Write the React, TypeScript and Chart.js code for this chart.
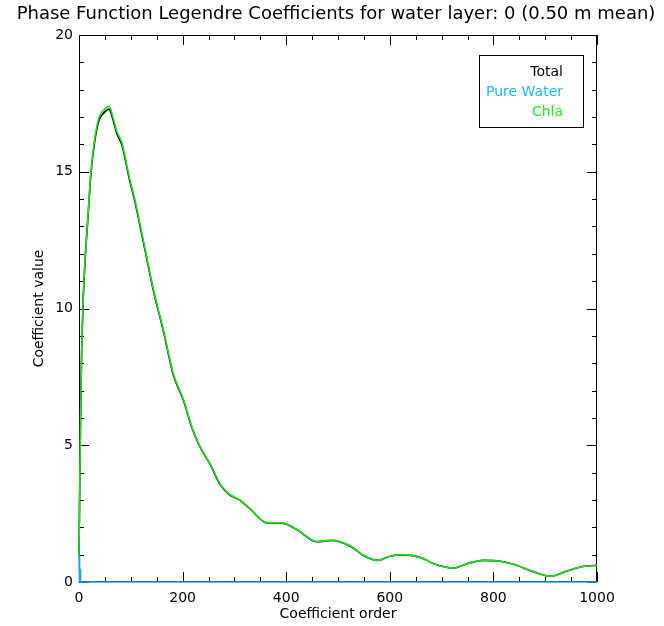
import React, { useEffect, useRef } from "react";
import { Chart, registerables } from "chart.js";

Chart.register(...registerables);

// Legendre expansion coefficients of the phase function, by coefficient order
const ORDERS = [0, 1, 2, 3, 5, 8, 12, 17, 23, 31, 39, 47, 58, 66, 73, 83, 97, 108, 128, 144, 163, 182, 202, 218, 234, 253, 272, 289, 311, 330, 363, 392, 420, 459, 488, 524, 549, 577, 600, 623, 659, 685, 723, 749, 781, 813, 839, 878, 910, 942, 968, 1000];
const CHLA = [1.0, 2.8, 4.5, 6.0, 8.3, 10.3, 11.9, 13.3, 15.0, 16.3, 17.0, 17.24, 17.4, 16.97, 16.48, 16.05, 14.82, 13.97, 12.14, 10.67, 9.21, 7.62, 6.65, 5.67, 4.94, 4.33, 3.6, 3.23, 2.99, 2.69, 2.17, 2.16, 1.93, 1.48, 1.53, 1.32, 0.98, 0.79, 0.94, 1.0, 0.9, 0.67, 0.51, 0.67, 0.79, 0.76, 0.65, 0.37, 0.21, 0.4, 0.55, 0.61];
const TOTAL = [1.0, 2.78, 4.48, 5.97, 8.26, 10.25, 11.84, 13.23, 14.92, 16.2, 16.9, 17.13, 17.29, 16.88, 16.4, 15.97, 14.75, 13.9, 12.08, 10.62, 9.17, 7.58, 6.62, 5.64, 4.92, 4.31, 3.58, 3.21, 2.98, 2.68, 2.16, 2.15, 1.92, 1.47, 1.52, 1.31, 0.97, 0.79, 0.94, 0.99, 0.9, 0.67, 0.51, 0.67, 0.79, 0.76, 0.65, 0.37, 0.21, 0.4, 0.55, 0.61];
const WATER_ORDERS = [0, 1, 2, 3, 1000];
const WATER = [1.0, 0.0, 0.48, 0.0, 0.0];

const X_TICKS = [0, 200, 400, 600, 800, 1000];
const Y_TICKS = [0, 5, 10, 15, 20];

const TITLE = "Phase Function Legendre Coefficients for water layer: 0 (0.50 m mean)";
const LEGEND_NAMES = ["Total", "Pure Water", "Chla"];
const LEGEND_COLORS = ["#000000", "#1eb4ff", "#22ee22"];

const FONT = "DejaVu Sans";

const toPoints = (xs: number[], ys: number[]) => xs.map((x, i) => ({ x, y: ys[i] }));

// Plot frame with inward-pointing major and minor tick marks on all four sides
const framePlugin = {
  id: "frame",
  beforeDatasetsDraw(chart: any) {
    const { ctx, chartArea: a, scales } = chart;
    const xs = scales.x;
    const ys = scales.y;
    ctx.save();
    ctx.strokeStyle = "#000";
    ctx.lineWidth = 1;
    ctx.beginPath();
    ctx.rect(a.left + 0.5, a.top + 0.5, a.right - a.left - 1, a.bottom - a.top - 1);
    ctx.stroke();
    ctx.beginPath();
    for (let v = 0; v <= 1000; v += 50) {
      const len = v % 200 === 0 ? 10 : 5;
      const px = Math.round(xs.getPixelForValue(v)) + 0.5;
      ctx.moveTo(px, a.bottom);
      ctx.lineTo(px, a.bottom - len);
      ctx.moveTo(px, a.top);
      ctx.lineTo(px, a.top + len);
    }
    for (let v = 0; v <= 20; v += 1) {
      const len = v % 5 === 0 ? 10 : 5;
      const py = Math.round(ys.getPixelForValue(v)) + 0.5;
      ctx.moveTo(a.left, py);
      ctx.lineTo(a.left + len, py);
      ctx.moveTo(a.right, py);
      ctx.lineTo(a.right - len, py);
    }
    ctx.stroke();
    ctx.restore();
  },
  afterDraw(chart: any) {
    const { ctx, chartArea: a } = chart;
    ctx.save();
    // title
    ctx.fillStyle = "#000";
    ctx.font = `18px "${FONT}"`;
    ctx.textAlign = "center";
    ctx.textBaseline = "middle";
    ctx.fillText(TITLE, (a.left + a.right) / 2 - 2, 14);
    // legend box
    ctx.strokeStyle = "#000";
    ctx.lineWidth = 1;
    ctx.strokeRect(479.5, 55.5, 104, 72);
    ctx.font = `14px "${FONT}"`;
    ctx.textAlign = "right";
    LEGEND_NAMES.forEach((name, i) => {
      ctx.fillStyle = LEGEND_COLORS[i];
      ctx.fillText(name, 563, 72 + i * 20);
    });
    ctx.restore();
  },
};

export default function App() {
  const ref = useRef<HTMLCanvasElement>(null);

  useEffect(() => {
    if (!ref.current) return;
    const chart = new Chart(ref.current, {
      type: "line",
      data: {
        datasets: [
          {
            label: "Chla",
            data: toPoints(ORDERS, CHLA),
            borderColor: "#22dd22",
            borderWidth: 1.6,
            pointRadius: 0,
            cubicInterpolationMode: "monotone",
            order: 1,
            clip: 6,
          },
          {
            label: "Pure Water",
            data: toPoints(WATER_ORDERS, WATER),
            borderColor: "#1ea6e6",
            borderWidth: 1.6,
            pointRadius: 0,
            tension: 0,
            order: 2,
            clip: 6,
          },
          {
            label: "Total",
            data: toPoints(ORDERS, TOTAL),
            borderColor: "#000000",
            borderWidth: 1.6,
            pointRadius: 0,
            cubicInterpolationMode: "monotone",
            order: 3,
            clip: 6,
          },
        ],
      },
      options: {
        responsive: false,
        animation: false,
        layout: { padding: { left: 0, right: 67, top: 35, bottom: 0 } },
        plugins: { legend: { display: false }, tooltip: { enabled: false }, title: { display: false } },
        scales: {
          x: {
            type: "linear",
            min: 0,
            max: 1000,
            grid: { display: false, drawTicks: false },
            border: { display: false },
            afterBuildTicks: (s: any) => {
              s.ticks = X_TICKS.map((v) => ({ value: v }));
            },
            afterFit: (s: any) => {
              s.height = 44;
            },
            ticks: {
              color: "#000",
              font: { family: FONT, size: 14 },
              padding: 8,
              maxRotation: 0,
              callback: (v: any) => String(v),
            },
            title: {
              display: true,
              text: "Coefficient order",
              color: "#000",
              font: { family: FONT, size: 14 },
              padding: { top: 0, bottom: 3 },
            },
          },
          y: {
            type: "linear",
            min: 0,
            max: 20,
            grid: { display: false, drawTicks: false },
            border: { display: false },
            afterBuildTicks: (s: any) => {
              s.ticks = Y_TICKS.map((v) => ({ value: v }));
            },
            afterFit: (s: any) => {
              s.width = 79;
            },
            ticks: {
              color: "#000",
              font: { family: FONT, size: 14 },
              padding: 6,
              callback: (v: any) => String(v),
            },
            title: {
              display: true,
              text: "Coefficient value",
              color: "#000",
              font: { family: FONT, size: 14 },
              padding: { top: 31, bottom: 0 },
            },
          },
        },
      },
      plugins: [framePlugin],
    });
    return () => chart.destroy();
  }, []);

  return (
    <div style={{ position: "fixed", left: 0, top: 0, width: 664, height: 626, background: "#fff" }}>
      <canvas ref={ref} width={664} height={626} style={{ display: "block" }} />
    </div>
  );
}
